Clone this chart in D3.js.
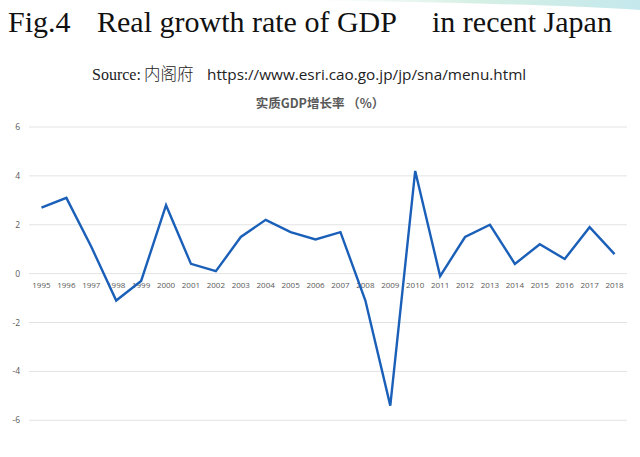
<!DOCTYPE html>
<html><head><meta charset="utf-8">
<script src="https://cdn.jsdelivr.net/npm/d3@7"></script>
<style>body{margin:0;background:#fff}svg{display:block}</style>
</head><body>
<svg id="c" width="640" height="457"></svg>
<script>
const years = ["1995","1996","1997","1998","1999","2000","2001","2002","2003","2004","2005","2006","2007","2008","2009","2010","2011","2012","2013","2014","2015","2016","2017","2018"];
const growth = [2.7,3.1,1.1,-1.1,-0.3,2.8,0.4,0.1,1.5,2.2,1.7,1.4,1.7,-1.1,-5.4,4.2,-0.1,1.5,2.0,0.4,1.2,0.6,1.9,0.8];
const yTicks = [-6,-4,-2,0,2,4,6];

const svg = d3.select("#c");
// decorative swoosh top-right
const defs = svg.append("defs");
const g1 = defs.append("linearGradient").attr("id","sw").attr("x1","0").attr("x2","1");
g1.append("stop").attr("offset","0").attr("stop-color","#e8f5ef").attr("stop-opacity",0);
g1.append("stop").attr("offset","0.5").attr("stop-color","#d6f0e4");
g1.append("stop").attr("offset","1").attr("stop-color","#c4e8ec");
svg.append("path").attr("d","M300,0 L640,0 L640,10 C560,5 440,2 300,0 Z").attr("fill","url(#sw)");

const tf = {"font-family":"Liberation Serif","font-size":30,"fill":"#111"};
[["Fig.4",8],["Real growth rate of GDP",97],["in recent Japan",432]].forEach(([t,xx])=>{
  const el = svg.append("text").attr("x",xx).attr("y",32).text(t);
  Object.entries(tf).forEach(([k,v])=>el.attr(k,v));
});

svg.append("text").attr("x",92).attr("y",80).attr("font-family","Liberation Serif").attr("font-size",16).attr("fill","#222").text("Source:");
svg.append("text").attr("x",144).attr("y",80).attr("font-family","Noto Sans CJK SC").attr("font-weight","300").attr("font-size",16.5).attr("fill","#222").text("内阁府");
svg.append("text").attr("x",207).attr("y",80).attr("font-family","Open Sans").attr("font-size",15.3).attr("fill","#222").text("https://www.esri.cao.go.jp/jp/sna/menu.html");

svg.append("text").attr("x",320).attr("y",108).attr("text-anchor","middle").attr("font-family","Noto Sans CJK SC").attr("font-weight","bold").attr("font-size",12.5).attr("fill","#595959").text("实质GDP增长率 （%）");

const x = d3.scaleBand().domain(years).range([29,627]);
const y = d3.scaleLinear().domain([-6,6]).range([420.3,127]);

svg.append("g").selectAll("line").data(yTicks).join("line")
  .attr("x1",29).attr("x2",627).attr("y1",d=>y(d)).attr("y2",d=>y(d))
  .attr("stroke","#e3e3e3").attr("stroke-width",1);

svg.append("g").selectAll("text").data(yTicks).join("text")
  .attr("x",20).attr("y",d=>y(d)+3).attr("text-anchor","end")
  .attr("font-family","Open Sans").attr("font-size",8.5).attr("fill","#595959").text(d=>d);

svg.append("g").selectAll("text").data(years).join("text")
  .attr("x",d=>x(d)+x.bandwidth()/2).attr("y",288).attr("text-anchor","middle")
  .attr("font-family","Open Sans").attr("font-size",8).attr("fill","#595959").text(d=>d);

const line = d3.line().x((d,i)=>x(years[i])+x.bandwidth()/2).y(d=>y(d));
svg.append("path").datum(growth).attr("d",line).attr("fill","none")
  .attr("stroke","#1a5fb8").attr("stroke-width",2.4).attr("stroke-linejoin","miter");
</script>
</body></html>
